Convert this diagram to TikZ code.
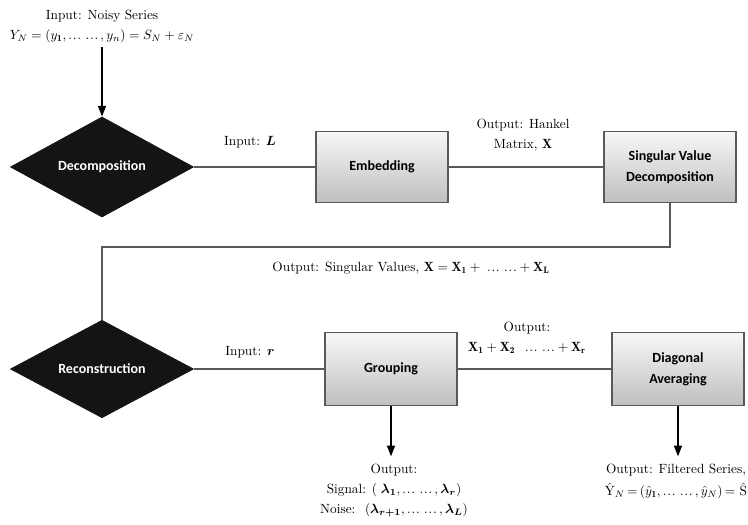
\documentclass[tikz,border=0pt]{standalone}
\usepackage{amsmath,bm}
\usepackage{fontspec}
\newfontfamily\boxfont{Carlito}
\usetikzlibrary{shapes.geometric,arrows.meta}

\newcommand{\tdots}{\mathinner{.\kern0.6pt.\kern0.6pt.}\,\mathinner{.\kern0.6pt.\kern0.6pt.}}

\tikzset{every picture/.style={line width=0.75pt}}
\tikzset{
	stage/.style={draw=black!65, line width=0.9pt, top color=black!3, bottom color=black!25, minimum width=99pt, minimum height=53pt, align=center, font=\boxfont\bfseries\fontsize{10.5}{16}\selectfont},
	decision/.style={diamond, fill=black!92, draw=black!92, text=white, minimum width=137pt, minimum height=70pt, inner sep=0pt, font=\boxfont\bfseries\fontsize{10.5}{16}\selectfont},
	link/.style={draw=black!65, line width=1pt},
	flow/.style={draw=black, line width=1pt, -{Triangle[width=6pt,length=8pt]}},
	note/.style={inner sep=0.75pt, align=center, font=\fontsize{10}{15}\selectfont}
}

\begin{document}
\begin{tikzpicture}[x=0.75pt,y=0.75pt,yscale=-1,xscale=1]
	\useasboundingbox (0,0) rectangle (748,524);
	
	%Shape: Diamond [id:decomposition]
	\node [decision] (dec) at (102,167) {Decomposition};
	%Shape: Rectangle [id:embedding]
	\node [stage] (emb) at (382,167) {Embedding};
	%Shape: Rectangle [id:svd]
	\node [stage] (svd) at (670,167) {Singular Value\\Decomposition};
	%Shape: Diamond [id:reconstruction]
	\node [decision, minimum height=71pt] (rec) at (102,369) {Reconstruction};
	%Shape: Rectangle [id:grouping]
	\node [stage, minimum height=55pt] (grp) at (391,369) {Grouping};
	%Shape: Rectangle [id:diagonal]
	\node [stage, minimum height=55pt] (diag) at (678,369) {Diagonal\\Averaging};
	\coordinate (bend) at (670,247);
	
	% Text Node
	\draw (102,26) node [note, inner sep=3pt] (noisy) {Input: Noisy Series\\$Y_N = (y_{\mathbf{1}}, \tdots, y_n) = S_N + \varepsilon_N$};
	% Text Node
	\draw (250,142) node [note] (inL) {Input: $\bm{L}$};
	% Text Node
	\draw (523,135) node [note] (hankel) {Output: Hankel\\Matrix, $\mathbf{X}$};
	% Text Node
	\draw (411,268) node [note] (svals) {Output: Singular Values, $\mathbf{X} = \mathbf{X_1} +\; \tdots + \mathbf{X_L}$};
	% Text Node
	\draw (250,352) node [note] (inr) {Input: $\bm{r}$};
	% Text Node
	\draw (527,338) node [note] (xsum) {Output:\\$\mathbf{X_1} + \mathbf{X_2}\;\; \tdots + \mathbf{X_r}$};
	% Text Node
	\draw (394,463) node [note, anchor=north] (gout) {Output:\\Signal: $(\;\bm{\lambda_1}, \tdots, \bm{\lambda_r})$\\Noise: $\;(\bm{\lambda_{r+1}}, \tdots, \bm{\lambda_L})$};
	% Text Node
	\draw (676,463) node [note, anchor=north] (dout) {Output: Filtered Series,\\[1.5pt]$\thickmuskip=3mu\hat{\mathrm{Y}}_N = (\hat{y}_{\mathbf{1}}, \tdots, \hat{y}_N) = \;\hat{\mathrm{S}}$};
	
	%Straight Lines [id:flow]
	\draw [flow] (noisy) -- (dec);
	\draw [link] (dec) -- (emb);
	\draw [link] (emb) -- (svd);
	\draw [link] (svd) -- (bend) -| (rec);
	\draw [link] (rec) -- (grp);
	\draw [link] (grp) -- (diag);
	\draw [flow, shorten >=5pt] (grp) -- (grp |- gout.north);
	\draw [flow, shorten >=5pt] (diag) -- (diag |- dout.north);
	
\end{tikzpicture}
\end{document}
